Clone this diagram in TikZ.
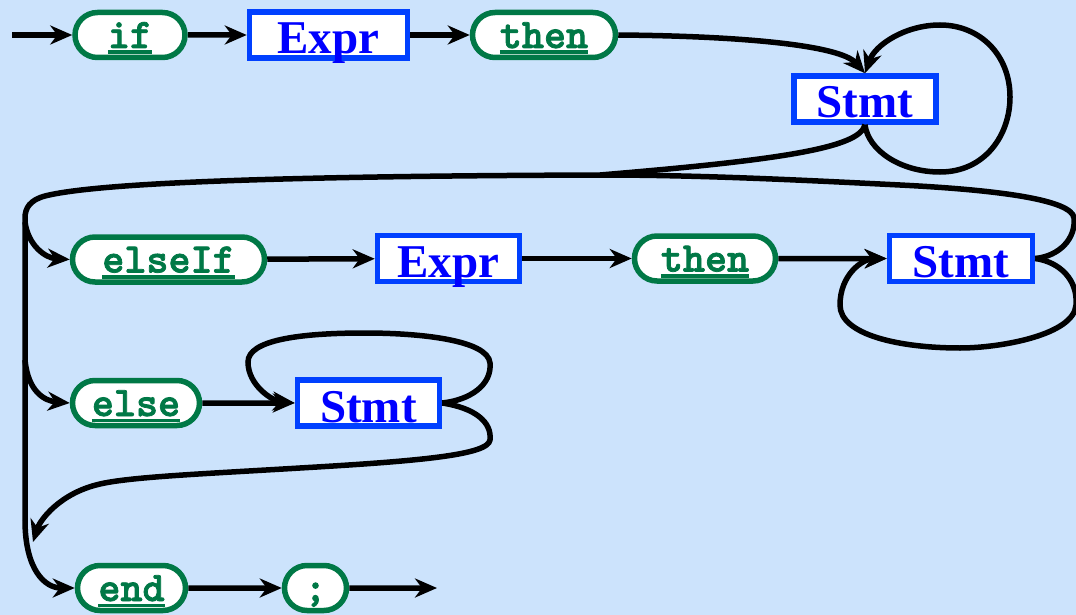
\documentclass[tikz,border=0pt]{standalone}
\usepackage{fontspec}
\setmainfont{Liberation Serif}
\newfontfamily\kwfont{lmmonolt10-bold.otf}[FakeBold=1.8]
\usetikzlibrary{arrows.meta,shapes.misc}
\definecolor{bg}{RGB}{204,227,252}
\definecolor{kwgreen}{RGB}{0,120,70}
\definecolor{ntblue}{RGB}{0,64,255}
\definecolor{nttext}{RGB}{0,0,255}
% keyword with a thick underline
\newcommand{\kwul}[1]{\setbox0\hbox{#1}\rlap{\rule[-6pt]{\wd0}{3.5pt}}\box0}
\tikzset{
  x=1pt, y=-1pt,
  kw/.style={rounded rectangle, draw=kwgreen, fill=white, line width=5.5pt,
    minimum height=45pt, inner sep=0pt, text height=26pt, text depth=0pt,
    text=kwgreen, font=\kwfont\fontsize{42}{42}\selectfont},
  nt/.style={draw=ntblue, fill=white, line width=5.5pt,
    minimum height=46pt, inner sep=0pt, text height=38pt, text depth=0pt,
    text=nttext, font=\fontsize{47}{47}\selectfont\bfseries},
  conn/.style={draw=black, line width=5.5pt},
  arr/.style={conn, -{Stealth[length=22pt, width=19pt, inset=7pt]}}
}
\begin{document}
\begin{tikzpicture}
\fill[bg] (0,0) rectangle (1076,615);
\useasboundingbox (0,0) rectangle (1076,615);

% terminals and non-terminals
\node[kw, minimum width=110pt] (if)     at (130,35)    {\kwul{if}};
\node[nt, minimum width=158pt] (E1)     at (328.5,35)  {Expr};
\node[kw, minimum width=143pt] (then1)  at (544,35)    {\kwul{then}};
\node[nt, minimum width=142pt] (S1)     at (865,99)    {Stmt};
\node[kw, minimum width=192pt] (elseIf) at (168.5,259.5) {\kwul{elseIf}};
\node[nt, minimum width=142pt] (E2)     at (448.5,258.5) {Expr};
\node[kw, minimum width=141pt] (then2)  at (705,258.5) {\kwul{then}};
\node[nt, minimum width=143pt] (S2)     at (961,258.5) {Stmt};
\node[kw, minimum width=127pt] (else)   at (136,403)   {\kwul{else}};
\node[nt, minimum width=142pt] (S3)     at (368.5,403) {Stmt};
\node[kw, minimum width=108pt] (end)    at (131.5,588) {\kwul{end}};
\node[kw, minimum width=62pt]  (semi)   at (315.5,588) {;};

\coordinate (start) at (12,35);
\coordinate (exit)  at (437,588);
\coordinate (merge) at (600,175);
\coordinate (corner) at (25,218);
\coordinate (down) at (25,520);
\coordinate (br1) at (25,222);
\coordinate (br2) at (25,360);

% first line
\draw[arr] (start) -- (if);
\draw[arr] (if) -- (E1);
\draw[arr] (E1) -- (then1);
\draw[arr] (then1.east) .. controls (740,36) and (840,45) .. (S1.north);
% repeat of the first Stmt
\draw[arr] (S1.south) .. controls (868,150) and (900,172) .. (940,172)
  .. controls (985,172) and (1010,135) .. (1010,97)
  .. controls (1010,55) and (980,25) .. (940,25)
  .. controls (905,25) and (875,45) .. (S1.north);
% leaving the first Stmt
\draw[conn] (S1.south) .. controls (860,148) and (780,160) .. (merge);
% back from the elseIf branch
\draw[conn] (S2.east) .. controls (1060,256) and (1076,238) .. (1074,218)
  .. controls (1072,200) and (1000,190) .. (900,185)
  .. controls (800,180) and (700,175) .. (merge);
% main rail down the left side
\draw[conn] (merge) .. controls (300,176) and (100,182) .. (45,196)
  .. controls (30,200) and (25,208) .. (corner) -- (down);
\draw[arr] (down) .. controls (25,570) and (45,588) .. (end.west);
\draw[arr] (br1) .. controls (28,245) and (45,258) .. (elseIf.west);
\draw[arr] (br2) .. controls (28,392) and (45,401) .. (else.west);

% elseIf branch
\draw[arr] (elseIf) -- (E2);
\draw[arr] (E2) -- (then2);
\draw[arr] (then2) -- (S2);
\draw[arr] (S2.east) .. controls (1060,262) and (1078,280) .. (1076,305)
  .. controls (1074,335) and (1000,348) .. (960,348)
  .. controls (900,348) and (840,335) .. (840,305)
  .. controls (840,275) and (862,259) .. (S2.west);

% else branch
\draw[arr] (else) -- (S3);
\draw[arr] (S3.east) .. controls (470,400) and (492,385) .. (490,363)
  .. controls (488,340) and (420,333) .. (365,333)
  .. controls (300,333) and (248,340) .. (248,362)
  .. controls (248,385) and (272,401) .. (S3.west);
\draw[arr] (S3.east) .. controls (475,408) and (492,422) .. (490,440)
  .. controls (488,455) and (420,461) .. (300,468)
  .. controls (200,474) and (130,477) .. (100,484)
  .. controls (60,493) and (40,520) .. (33,542);

% end
\draw[arr] (end) -- (semi);
\draw[arr] (semi) -- (exit);
\end{tikzpicture}
\end{document}
